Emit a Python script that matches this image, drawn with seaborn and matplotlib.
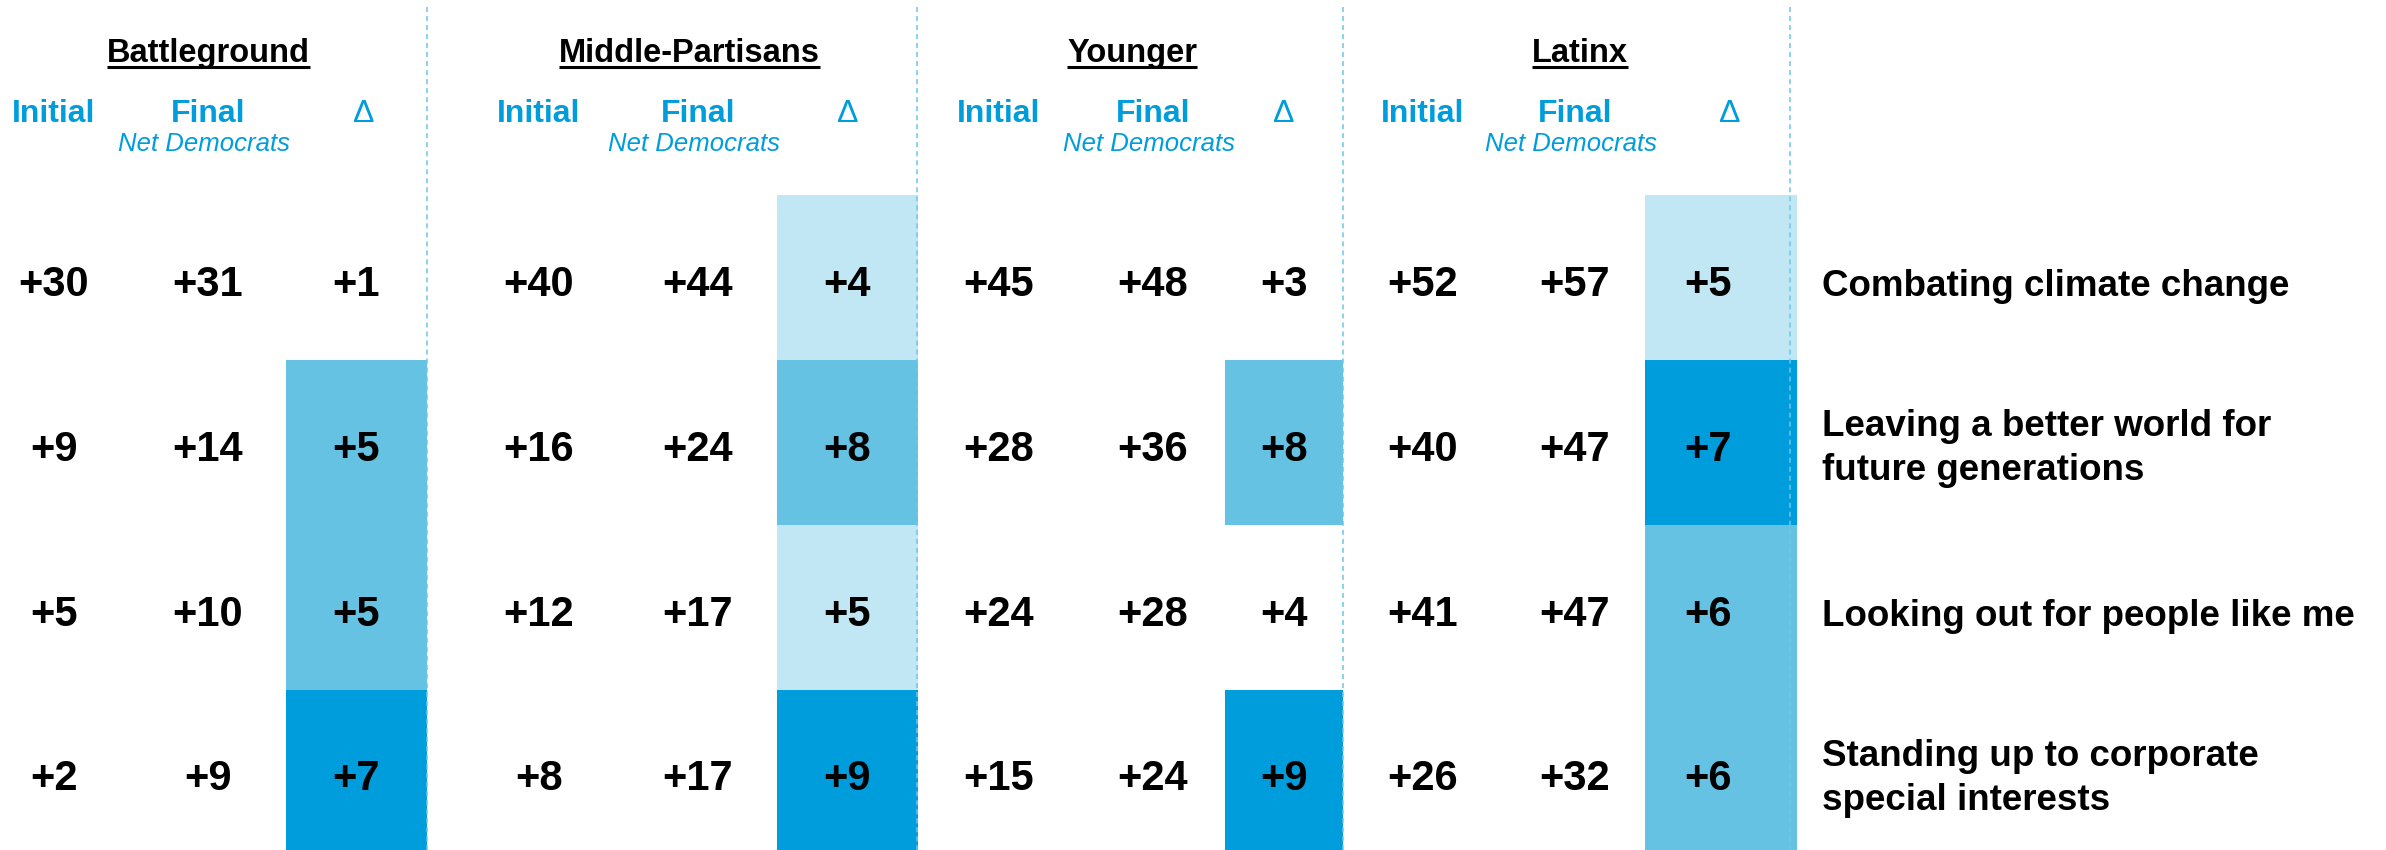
import matplotlib
matplotlib.use("Agg")
import matplotlib.pyplot as plt
from matplotlib.colors import ListedColormap
import numpy as np
import seaborn as sns

# ---------------- data ----------------
groups = ["Battleground", "Middle-Partisans", "Younger", "Latinx"]
categories = [
    "Combating climate change",
    "Leaving a better world for\nfuture generations",
    "Looking out for people like me",
    "Standing up to corporate\nspecial interests",
]
initial_battleground = [30, 9, 5, 2]
final_battleground = [31, 14, 10, 9]
delta_battleground = [1, 5, 5, 7]
shade_battleground = [0, 2, 2, 3]

initial_middle = [40, 16, 12, 8]
final_middle = [44, 24, 17, 17]
delta_middle = [4, 8, 5, 9]
shade_middle = [1, 2, 1, 3]

initial_younger = [45, 28, 24, 15]
final_younger = [48, 36, 28, 24]
delta_younger = [3, 8, 4, 9]
shade_younger = [0, 2, 0, 3]

initial_latinx = [52, 40, 41, 26]
final_latinx = [57, 47, 47, 32]
delta_latinx = [5, 7, 6, 6]
shade_latinx = [1, 3, 2, 2]

col_headers = ["Initial", "Final", "\u0394"]
subheader = "Net Democrats"

initials = [initial_battleground, initial_middle, initial_younger, initial_latinx]
finals = [final_battleground, final_middle, final_younger, final_latinx]
deltas = [delta_battleground, delta_middle, delta_younger, delta_latinx]
shades = [shade_battleground, shade_middle, shade_younger, shade_latinx]

# ---------------- style / layout ----------------
sns.set_theme(style="white")
plt.rcParams["font.family"] = ["Liberation Sans", "DejaVu Sans"]

W, H = 2386, 850
BLUE = "#009DDC"
shade_colors = ["#FFFFFF", "#C2E7F4", "#65C2E3", "#009DDC"]
cmap = ListedColormap(shade_colors)

col_x = [(54, 208, 356), (539, 698, 847), (999, 1153, 1284), (1423, 1575, 1708)]
delta_head_x = [364, 848, 1284, 1730]
title_x = [208, 689, 1132, 1580]
box_x = [(286, 427), (777, 918), (1225, 1343), (1645, 1797)]
dash_x = [427, 917, 1343, 1790]
label_x = 1822

row_top, row_step = 195, 165
row_baseline = [row_top + row_step * i + row_step / 2 + 18 for i in range(4)]

fig = plt.figure(figsize=(W / 100, H / 100), dpi=100)
fig.patch.set_facecolor("white")

# delta shading columns via seaborn heatmaps
for g in range(4):
    x0, x1 = box_x[g]
    y0, y1 = row_top, row_top + 4 * row_step
    hax = fig.add_axes([x0 / W, 1 - y1 / H, (x1 - x0) / W, (y1 - y0) / H])
    sns.heatmap(np.array(shades[g]).reshape(4, 1), ax=hax, cmap=cmap,
                vmin=-0.5, vmax=3.5, cbar=False, xticklabels=False,
                yticklabels=False, linewidths=0)
    hax.set_axis_off()

# overlay axes in pixel coordinates
ax = fig.add_axes([0, 0, 1, 1])
ax.set_xlim(0, W)
ax.set_ylim(H, 0)
ax.patch.set_alpha(0)
ax.set_axis_off()

# dashed separators
for x in dash_x:
    ax.plot([x, x], [7, H], color="#6CC6EA", lw=1.1, dashes=(3.3, 2.6), zorder=5)

# titles
title_texts = []
for g in range(4):
    t = ax.text(title_x[g], 62, groups[g], ha="center", va="baseline",
                fontsize=23.5, fontweight="bold", color="black")
    title_texts.append(t)

# column headers
for g in range(4):
    xi, xf, _ = col_x[g]
    ax.text(xi, 122, col_headers[0], ha="center", va="baseline", fontsize=23,
            fontweight="bold", color=BLUE)
    ax.text(xf, 122, col_headers[1], ha="center", va="baseline", fontsize=23,
            fontweight="bold", color=BLUE)
    ax.text(delta_head_x[g], 122, col_headers[2], ha="center", va="baseline",
            fontsize=23, color=BLUE)
    ax.text(xf - 4, 151, subheader, ha="center", va="baseline", fontsize=18.5,
            fontstyle="italic", color=BLUE)

# numbers
for g in range(4):
    xi, xf, xd = col_x[g]
    for r in range(4):
        yb = row_baseline[r]
        for x, v in ((xi, initials[g][r]), (xf, finals[g][r]), (xd, deltas[g][r])):
            ax.text(x, yb, f"+{v}", ha="center", va="baseline", fontsize=30,
                    fontweight="bold", color="black", zorder=6)

# category labels
for r, lab in enumerate(categories):
    lines = lab.split("\n")
    yb = row_baseline[r]
    if len(lines) == 1:
        offs = [0]
    else:
        offs = [-25, 19]
    for line, o in zip(lines, offs):
        ax.text(label_x, yb + o, line, ha="left", va="baseline", fontsize=26.5,
                fontweight="bold", color="black")

# underline titles
fig.canvas.draw()
renderer = fig.canvas.get_renderer()
inv = ax.transData.inverted()
for t in title_texts:
    bb = t.get_window_extent(renderer=renderer)
    (xa, _), (xb, _) = inv.transform([(bb.x0, bb.y0), (bb.x1, bb.y1)])
    ax.plot([xa, xb], [66.5, 66.5], color="black", lw=2.2, solid_capstyle="butt")

fig.savefig("out.png", dpi=100, facecolor="white")
